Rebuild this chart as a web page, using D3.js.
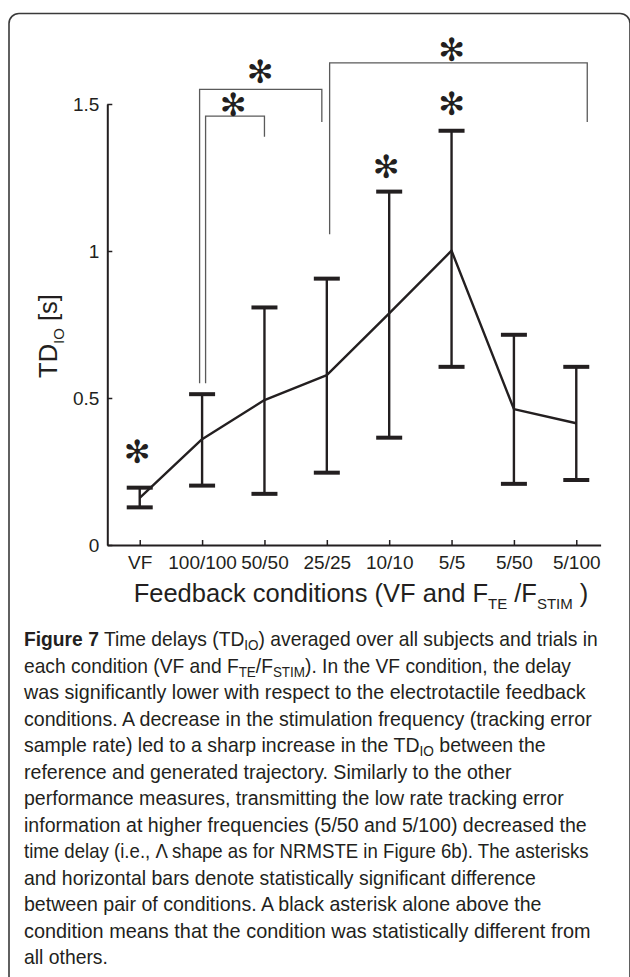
<!DOCTYPE html>
<html>
<head>
<meta charset="utf-8">
<script src="https://cdn.jsdelivr.net/npm/d3@7/dist/d3.min.js"></script>
<style>
  html, body { margin: 0; padding: 0; background: #fff; }
  svg { display: block; }
</style>
</head>
<body>
<svg id="chart" width="630" height="977"></svg>
<script>
// ---------------- data ----------------
const categories = ["VF", "100/100", "50/50", "25/25", "10/10", "5/5", "5/50", "5/100"];
const means = [0.160, 0.360, 0.493, 0.578, 0.788, 1.001, 0.462, 0.414];
const lower = [0.128, 0.202, 0.174, 0.246, 0.365, 0.606, 0.208, 0.221];
const upper = [0.195, 0.513, 0.808, 0.906, 1.202, 1.409, 0.715, 0.606];
const yTicks = [0, 0.5, 1, 1.5];
const yTickLabels = ["0", "0.5", "1", "1.5"];

// significance brackets (x in category-axis units, y in seconds)
const bracketX1 = [2.056, 1.960, 4.045];
const bracketX2 = [3.000, 3.920, 8.176];
const bracketTop = [1.459, 1.550, 1.640];
const bracketLeftEnd = [0.550, 0.550, 1.057];
const bracketRightEnd = [1.389, 1.439, 1.439];
const bracketStarX = [2.50, 2.93, 6.00];
const bracketStarY = [1.500, 1.610, 1.686];

// stand-alone asterisks (condition index, y in seconds)
const soloStarX = [0.96, 4.95, 6.00];
const soloStarY = [0.318, 1.289, 1.502];

// caption lines: [text, kind] kind: n normal, b bold, s subscript
const captionLines = [
  [["Figure 7", "b"], [" Time delays (TD", "n"], ["IO", "s"], [") averaged over all subjects and trials in", "n"]],
  [["each condition (VF and F", "n"], ["TE", "s"], ["/F", "n"], ["STIM", "s"], ["). In the VF condition, the delay", "n"]],
  [["was significantly lower with respect to the electrotactile feedback", "n"]],
  [["conditions. A decrease in the stimulation frequency (tracking error", "n"]],
  [["sample rate) led to a sharp increase in the TD", "n"], ["IO", "s"], [" between the", "n"]],
  [["reference and generated trajectory. Similarly to the other", "n"]],
  [["performance measures, transmitting the low rate tracking error", "n"]],
  [["information at higher frequencies (5/50 and 5/100) decreased the", "n"]],
  [["time delay (i.e., \u039B shape as for NRMSTE in Figure 6b). The asterisks", "n"]],
  [["and horizontal bars denote statistically significant difference", "n"]],
  [["between pair of conditions. A black asterisk alone above the", "n"]],
  [["condition means that the condition was statistically different from", "n"]],
  [["all others.", "n"]]
];
const captionLineEnds = [598, 571, 586, 592, 546, 512, 564, 587, 589, 536, 542, 591, 108];

// ---------------- drawing ----------------
const svg = d3.select("#chart");
const ink = "#231f20";
const chartFont = "'Liberation Sans', Arial, Helvetica, sans-serif";

// frame
svg.append("rect")
  .attr("x", 9).attr("y", 13.5)
  .attr("width", 621).attr("height", 1000)
  .attr("rx", 10).attr("ry", 10)
  .attr("fill", "none").attr("stroke", "#3a3a3a").attr("stroke-width", 1.6);

const x = d3.scaleLinear().domain([0.48, 8.39]).range([107.3, 600.6]);
const y = d3.scaleLinear().domain([0, 1.5]).range([545, 104]);

const g = svg.append("g");

// axes
const xAxis = d3.axisBottom(x)
  .tickValues(d3.range(1, categories.length + 1))
  .tickFormat(d => categories[d - 1])
  .tickSizeInner(-5).tickSizeOuter(0).tickPadding(11);
const gx = g.append("g").attr("transform", `translate(0,${y(0)})`).call(xAxis);

const yAxis = d3.axisLeft(y)
  .tickValues(yTicks)
  .tickFormat((d, i) => yTickLabels[i])
  .tickSizeInner(-5).tickSizeOuter(0).tickPadding(8);
const gy = g.append("g").attr("transform", `translate(${x.range()[0]},0)`).call(yAxis);

[gx, gy].forEach(a => {
  a.select(".domain").attr("stroke", ink).attr("stroke-width", 2);
  a.selectAll(".tick line").attr("stroke", ink).attr("stroke-width", 1.5);
  a.selectAll(".tick text").attr("fill", ink).style("font-family", chartFont).style("font-size", "19px");
});

// significance brackets
const bracketColor = "#5a5a5a";
bracketX1.forEach((bx1, i) => {
  const path = d3.path();
  path.moveTo(x(bx1), y(bracketLeftEnd[i]));
  path.lineTo(x(bx1), y(bracketTop[i]));
  path.lineTo(x(bracketX2[i]), y(bracketTop[i]));
  path.lineTo(x(bracketX2[i]), y(bracketRightEnd[i]));
  g.append("path").attr("d", path.toString())
    .attr("fill", "none").attr("stroke", bracketColor).attr("stroke-width", 1.3);
});

// error bars
const capHalf = 13;
categories.forEach((c, i) => {
  const cx = x(i + 1);
  g.append("line").attr("x1", cx).attr("x2", cx)
    .attr("y1", y(lower[i])).attr("y2", y(upper[i]))
    .attr("stroke", ink).attr("stroke-width", 2.4);
  [lower[i], upper[i]].forEach(v => {
    g.append("line").attr("x1", cx - capHalf).attr("x2", cx + capHalf)
      .attr("y1", y(v)).attr("y2", y(v))
      .attr("stroke", ink).attr("stroke-width", 4);
  });
});

// mean line
const line = d3.line().x((d, i) => x(i + 1)).y(d => y(d));
g.append("path").datum(means).attr("d", line)
  .attr("fill", "none").attr("stroke", ink).attr("stroke-width", 2.4)
  .attr("stroke-linejoin", "round");

// asterisks
function star(xv, yv) {
  g.append("text").attr("x", x(xv)).attr("y", y(yv))
    .attr("text-anchor", "middle").attr("dy", "0.36em")
    .style("font-family", "'DejaVu Sans', sans-serif").style("font-size", "32px")
    .attr("fill", ink).text("\u273B");
}
bracketStarX.forEach((xv, i) => star(xv, bracketStarY[i]));
soloStarX.forEach((xv, i) => star(xv, soloStarY[i]));

// axis titles
const xt = g.append("text").attr("x", 361).attr("y", 602)
  .attr("text-anchor", "middle").attr("fill", ink)
  .style("font-family", chartFont).style("font-size", "25.5px");
xt.append("tspan").text("Feedback conditions (VF and F");
xt.append("tspan").attr("dy", 7).style("font-size", "15px").text("TE");
xt.append("tspan").attr("dy", -7).text(" /F");
xt.append("tspan").attr("dy", 7).style("font-size", "15px").text("STIM");
xt.append("tspan").attr("dy", -7).text(" )");

const yt = g.append("text").attr("transform", "translate(57,336) rotate(-90)")
  .attr("text-anchor", "middle").attr("fill", ink)
  .style("font-family", chartFont).style("font-size", "25.5px");
yt.append("tspan").text("TD");
yt.append("tspan").attr("dy", 7).style("font-size", "15px").text("IO");
yt.append("tspan").attr("dy", -7).text(" [s]");

// caption (horizontally condensed to the reference line widths)
const capFont = "'Liberation Sans', Arial, sans-serif";
const capX = 24;
captionLines.forEach((segs, li) => {
  const baseY = 646 + 26.5 * li;
  const t = svg.append("text").attr("x", 0).attr("y", 0)
    .attr("fill", "#231f20")
    .style("font-family", capFont).style("font-size", "20px");
  let inSub = false;
  segs.forEach(([txt, kind]) => {
    const ts = t.append("tspan").text(txt);
    if (kind === "b") ts.style("font-weight", "bold");
    if (kind === "s") { ts.attr("dy", 4).style("font-size", "14px"); inSub = true; }
    else if (inSub) { ts.attr("dy", -4); inSub = false; }
  });
  const natural = t.node().getComputedTextLength();
  const sx = (captionLineEnds[li] - capX) / natural;
  t.attr("transform", `translate(${capX},${baseY}) scale(${sx},1)`);
});
</script>
</body>
</html>
